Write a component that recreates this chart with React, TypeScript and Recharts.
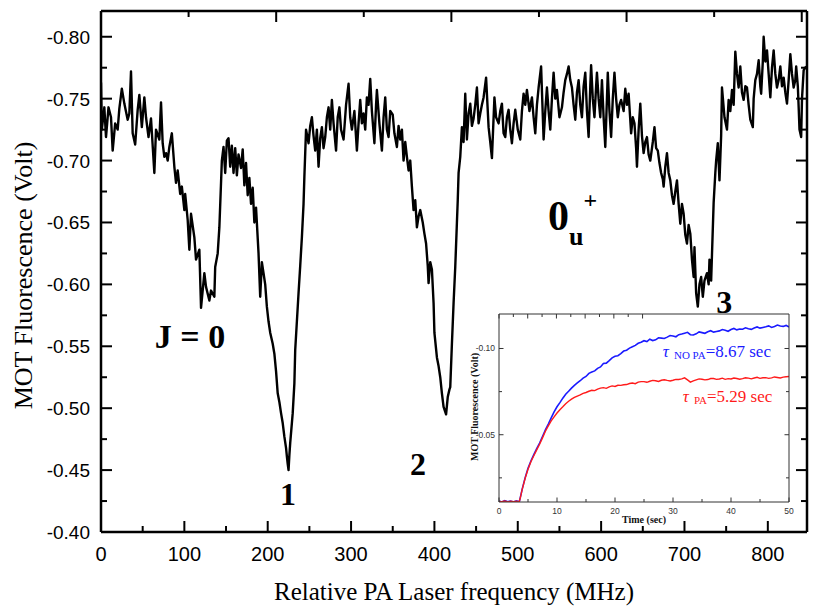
import React from "react";
import { LineChart, Line, XAxis, YAxis, ReferenceDot } from "recharts";

// main trace: relative PA laser frequency (MHz) vs MOT fluorescence (V)
const FREQ_MHZ = [
  0, 1, 4, 6, 9, 12, 14, 17, 20, 22,
  25, 28, 32, 34, 36, 38, 41, 44, 46, 49,
  52, 54, 57, 60, 64, 66, 70, 72, 74, 76,
  78, 80, 82, 85, 88, 90, 92, 95, 97, 100,
  101, 104, 106, 108, 112, 114, 118, 120, 124, 126,
  130, 132, 136, 137, 140, 142, 145, 147, 149, 151,
  153, 155, 157, 159, 161, 163, 165, 168, 170, 172,
  174, 176, 178, 180, 182, 184, 186, 189, 191, 193,
  195, 197, 199, 201, 203, 206, 208, 210, 212, 214,
  216, 218, 220, 222, 223, 224, 225, 226, 227, 229,
  230, 232, 233, 235, 237, 239, 241, 243, 244, 246,
  249, 251, 253, 255, 257, 259, 261, 263, 265, 267,
  269, 271, 273, 275, 277, 279, 282, 284, 286, 288,
  291, 294, 297, 299, 301, 304, 307, 309, 311, 313,
  315, 317, 319, 321, 323, 325, 328, 330, 331, 334,
  337, 339, 341, 343, 345, 347, 350, 352, 355, 357,
  359, 361, 363, 365, 367, 369, 371, 373, 375, 377,
  379, 381, 383, 386, 388, 390, 392, 393, 395, 397,
  399, 400, 403, 405, 407, 409, 411, 412, 414, 416,
  418, 419, 421, 423, 425, 427, 428, 429, 431, 433,
  435, 437, 439, 441, 443, 445, 447, 449, 451, 453,
  455, 457, 459, 462, 465, 467, 469, 472, 474, 477,
  479, 481, 483, 485, 487, 489, 491, 493, 495, 497,
  500, 503, 505, 507, 509, 511, 514, 517, 519, 521,
  523, 525, 528, 531, 533, 535, 537, 539, 541, 543,
  545, 547, 550, 553, 555, 557, 559, 561, 563, 565,
  567, 569, 571, 573, 575, 577, 579, 581, 583, 585,
  587, 588, 590, 592, 594, 595, 597, 599, 601, 603,
  605, 607, 608, 610, 612, 614, 616, 618, 620, 622,
  624, 627, 629, 631, 633, 636, 638, 640, 642, 643,
  645, 647, 649, 651, 653, 655, 657, 659, 662, 664,
  666, 668, 670, 672, 674, 675, 677, 679, 681, 683,
  685, 687, 689, 691, 693, 695, 697, 699, 701, 703,
  705, 707, 709, 711, 712, 714, 716, 718, 720, 722,
  724, 727, 729, 730, 732, 735, 737, 738, 740, 742,
  744, 745, 748, 751, 753, 755, 757, 759, 761, 763,
  765, 767, 769, 771, 773, 775, 777, 779, 782, 783,
  785, 787, 789, 791, 792, 794, 795, 797, 799, 801,
  803, 805, 807, 809, 811, 813, 815, 817, 819, 821,
  823, 825, 827, 829, 831, 833, 834, 836, 837, 838,
  840, 841, 843, 846,
];

const FLUOR_V = [
  -0.763, -0.725, -0.743, -0.719, -0.743, -0.735, -0.708, -0.730, -0.725, -0.742,
  -0.758, -0.746, -0.733, -0.738, -0.772, -0.722, -0.713, -0.741, -0.753, -0.727,
  -0.751, -0.735, -0.719, -0.734, -0.690, -0.725, -0.717, -0.747, -0.714, -0.703,
  -0.706, -0.700, -0.711, -0.722, -0.695, -0.682, -0.692, -0.673, -0.679, -0.660,
  -0.673, -0.652, -0.628, -0.657, -0.638, -0.620, -0.628, -0.581, -0.609, -0.598,
  -0.587, -0.595, -0.590, -0.614, -0.625, -0.646, -0.700, -0.711, -0.690, -0.716,
  -0.718, -0.695, -0.712, -0.690, -0.710, -0.688, -0.705, -0.694, -0.709, -0.680,
  -0.698, -0.672, -0.686, -0.665, -0.678, -0.650, -0.662, -0.625, -0.590, -0.618,
  -0.609, -0.600, -0.582, -0.570, -0.561, -0.552, -0.544, -0.530, -0.512, -0.505,
  -0.496, -0.488, -0.477, -0.468, -0.461, -0.455, -0.450, -0.462, -0.472, -0.488,
  -0.496, -0.520, -0.547, -0.570, -0.593, -0.615, -0.638, -0.665, -0.687, -0.725,
  -0.714, -0.728, -0.735, -0.720, -0.708, -0.725, -0.695, -0.718, -0.727, -0.710,
  -0.719, -0.735, -0.743, -0.725, -0.749, -0.730, -0.708, -0.735, -0.743, -0.725,
  -0.717, -0.745, -0.762, -0.735, -0.725, -0.740, -0.708, -0.730, -0.749, -0.730,
  -0.738, -0.725, -0.751, -0.745, -0.766, -0.740, -0.714, -0.745, -0.757, -0.730,
  -0.708, -0.735, -0.751, -0.725, -0.719, -0.740, -0.737, -0.722, -0.711, -0.728,
  -0.717, -0.725, -0.700, -0.715, -0.703, -0.692, -0.700, -0.679, -0.660, -0.668,
  -0.646, -0.655, -0.660, -0.650, -0.641, -0.633, -0.615, -0.601, -0.618, -0.612,
  -0.585, -0.561, -0.541, -0.534, -0.525, -0.512, -0.501, -0.499, -0.495, -0.509,
  -0.515, -0.517, -0.552, -0.585, -0.614, -0.650, -0.668, -0.690, -0.703, -0.727,
  -0.715, -0.754, -0.717, -0.738, -0.746, -0.728, -0.734, -0.745, -0.759, -0.730,
  -0.738, -0.745, -0.751, -0.767, -0.727, -0.715, -0.702, -0.751, -0.735, -0.730,
  -0.740, -0.746, -0.722, -0.719, -0.735, -0.741, -0.725, -0.714, -0.730, -0.741,
  -0.725, -0.717, -0.740, -0.754, -0.745, -0.757, -0.740, -0.751, -0.735, -0.722,
  -0.745, -0.759, -0.776, -0.717, -0.740, -0.759, -0.740, -0.725, -0.750, -0.771,
  -0.750, -0.757, -0.735, -0.743, -0.755, -0.765, -0.770, -0.776, -0.765, -0.759,
  -0.745, -0.733, -0.755, -0.765, -0.745, -0.735, -0.760, -0.771, -0.740, -0.719,
  -0.760, -0.777, -0.750, -0.735, -0.760, -0.771, -0.750, -0.735, -0.765, -0.735,
  -0.711, -0.750, -0.771, -0.740, -0.719, -0.750, -0.771, -0.750, -0.735, -0.745,
  -0.749, -0.740, -0.758, -0.745, -0.754, -0.722, -0.735, -0.730, -0.710, -0.695,
  -0.725, -0.746, -0.720, -0.706, -0.715, -0.719, -0.705, -0.700, -0.715, -0.727,
  -0.710, -0.708, -0.698, -0.690, -0.685, -0.679, -0.695, -0.706, -0.690, -0.684,
  -0.672, -0.665, -0.675, -0.684, -0.665, -0.649, -0.665, -0.657, -0.640, -0.633,
  -0.648, -0.641, -0.620, -0.606, -0.630, -0.593, -0.582, -0.600, -0.606, -0.590,
  -0.603, -0.609, -0.600, -0.620, -0.603, -0.666, -0.690, -0.700, -0.714, -0.684,
  -0.720, -0.759, -0.735, -0.725, -0.749, -0.740, -0.757, -0.745, -0.788, -0.770,
  -0.759, -0.776, -0.755, -0.749, -0.760, -0.759, -0.745, -0.733, -0.727, -0.750,
  -0.765, -0.770, -0.781, -0.760, -0.754, -0.780, -0.800, -0.780, -0.789, -0.770,
  -0.751, -0.775, -0.789, -0.770, -0.759, -0.765, -0.776, -0.760, -0.767, -0.755,
  -0.746, -0.765, -0.786, -0.770, -0.759, -0.765, -0.776, -0.760, -0.743, -0.725,
  -0.719, -0.750, -0.773, -0.776,
];

// inset: loading curves of the MOT, with and without PA light
const TIME_S = [
  0, 0.5, 1, 1.5, 2, 2.5, 3, 3.5, 3.7, 4,
  4.5, 5, 5.5, 6, 6.5, 7, 7.5, 8, 8.5, 9,
  9.5, 10, 10.5, 11, 11.5, 12, 12.5, 13, 13.5, 14,
  14.5, 15, 15.5, 16, 16.5, 17, 17.5, 18, 18.5, 19,
  19.5, 20, 20.5, 21, 21.5, 22, 22.5, 23, 23.5, 24,
  24.5, 25, 25.5, 26, 26.5, 27, 27.5, 28, 28.5, 29,
  29.5, 30, 30.5, 31, 31.5, 32, 32.5, 33, 33.5, 34,
  34.5, 35, 35.5, 36, 36.5, 37, 37.5, 38, 38.5, 39,
  39.5, 40, 40.5, 41, 41.5, 42, 42.5, 43, 43.5, 44,
  44.5, 45, 45.5, 46, 46.5, 47, 47.5, 48, 48.5, 49,
  49.5, 50,
];

const NO_PA_V = [
  -0.0115, -0.0110, -0.0118, -0.0112, -0.0116, -0.0110, -0.0117, -0.0112, -0.0140, -0.0185,
  -0.0250, -0.0305, -0.0348, -0.0385, -0.0420, -0.0452, -0.0490, -0.0528, -0.0562, -0.0598,
  -0.0632, -0.0662, -0.0686, -0.0712, -0.0735, -0.0752, -0.0770, -0.0786, -0.0800, -0.0813,
  -0.0828, -0.0838, -0.0856, -0.0864, -0.0870, -0.0885, -0.0893, -0.0913, -0.0915, -0.0930,
  -0.0946, -0.0955, -0.0958, -0.0970, -0.0985, -0.0990, -0.1002, -0.1010, -0.1018, -0.1030,
  -0.1036, -0.1045, -0.1040, -0.1054, -0.1046, -0.1050, -0.1062, -0.1060, -0.1058, -0.1066,
  -0.1075, -0.1072, -0.1068, -0.1080, -0.1084, -0.1089, -0.1094, -0.1080, -0.1078, -0.1085,
  -0.1096, -0.1092, -0.1088, -0.1097, -0.1103, -0.1095, -0.1099, -0.1102, -0.1110, -0.1106,
  -0.1100, -0.1110, -0.1116, -0.1108, -0.1113, -0.1112, -0.1120, -0.1115, -0.1111, -0.1119,
  -0.1125, -0.1118, -0.1122, -0.1126, -0.1131, -0.1122, -0.1128, -0.1136, -0.1130, -0.1128,
  -0.1134, -0.1125,
];

const PA_V = [
  -0.0113, -0.0112, -0.0116, -0.0110, -0.0114, -0.0112, -0.0115, -0.0112, -0.0138, -0.0183,
  -0.0246, -0.0300, -0.0343, -0.0378, -0.0412, -0.0445, -0.0482, -0.0520, -0.0551, -0.0580,
  -0.0604, -0.0626, -0.0645, -0.0662, -0.0680, -0.0694, -0.0706, -0.0716, -0.0724, -0.0731,
  -0.0740, -0.0745, -0.0752, -0.0758, -0.0756, -0.0765, -0.0770, -0.0773, -0.0769, -0.0778,
  -0.0783, -0.0780, -0.0787, -0.0786, -0.0790, -0.0791, -0.0797, -0.0800, -0.0796, -0.0805,
  -0.0808, -0.0808, -0.0804, -0.0810, -0.0815, -0.0813, -0.0809, -0.0816, -0.0819, -0.0815,
  -0.0812, -0.0816, -0.0821, -0.0820, -0.0824, -0.0830, -0.0818, -0.0805, -0.0812, -0.0818,
  -0.0824, -0.0822, -0.0818, -0.0820, -0.0826, -0.0826, -0.0821, -0.0823, -0.0828, -0.0821,
  -0.0825, -0.0823, -0.0829, -0.0826, -0.0822, -0.0825, -0.0830, -0.0828, -0.0824, -0.0829,
  -0.0833, -0.0827, -0.0830, -0.0831, -0.0827, -0.0830, -0.0835, -0.0832, -0.0829, -0.0834,
  -0.0836, -0.0838,
];

const X_TICKS = [0, 50, 100, 150, 200, 250, 300, 350, 400, 450, 500, 550, 600, 650, 700, 750, 800];
const Y_TICKS = [
  -0.8, -0.775, -0.75, -0.725, -0.7, -0.675, -0.65, -0.625, -0.6,
  -0.575, -0.55, -0.525, -0.5, -0.475, -0.45, -0.425, -0.4,
];
const INSET_X_TICKS = [0, 5, 10, 15, 20, 25, 30, 35, 40, 45, 50];
const INSET_Y_TICKS = [-0.1, -0.075, -0.05, -0.025];

const MAIN_ROWS = FREQ_MHZ.map((f, i) => ({ f, v: FLUOR_V[i] }));
const INSET_ROWS = TIME_S.map((t, i) => ({ t, noPa: NO_PA_V[i], pa: PA_V[i] }));

const SERIF = "'Liberation Serif', 'Times New Roman', Times, serif";
const SANS = "'Liberation Sans', Arial, Helvetica, sans-serif";

const majorMHz = (v: number) => Math.round(v) % 100 === 0;
const majorVolt = (v: number) => Math.round(Math.abs(v) * 1000) % 50 === 0;
const majorSec = (v: number) => Math.round(v) % 10 === 0;

// ---- main chart ticks (all pointing into the frame) ----
function MainBottomTick(props: any) {
  const { x, y, payload } = props;
  const major = majorMHz(payload.value);
  return (
    <g>
      <line x1={x} x2={x} y1={y} y2={y - (major ? 11 : 6)} stroke="#000" strokeWidth={2} />
      {major && (
        <text x={x} y={y + 29} textAnchor="middle" fontFamily={SANS} fontSize={20} fill="#000">
          {payload.value}
        </text>
      )}
    </g>
  );
}

function MainTopTick(props: any) {
  const { x, y, payload } = props;
  const major = majorMHz(payload.value);
  return <line x1={x} x2={x} y1={y} y2={y + (major ? 11 : 6)} stroke="#000" strokeWidth={2} />;
}

function MainLeftTick(props: any) {
  const { x, y, payload } = props;
  const major = majorVolt(payload.value);
  return (
    <g>
      <line x1={x} x2={x + (major ? 11 : 6)} y1={y} y2={y} stroke="#000" strokeWidth={2} />
      {major && (
        <text x={x - 11} y={y + 7} textAnchor="end" fontFamily={SANS} fontSize={19} fill="#000">
          {payload.value.toFixed(2)}
        </text>
      )}
    </g>
  );
}

function MainRightTick(props: any) {
  const { x, y, payload } = props;
  const major = majorVolt(payload.value);
  return <line x1={x} x2={x - (major ? 11 : 6)} y1={y} y2={y} stroke="#000" strokeWidth={2} />;
}

// ---- inset ticks ----
function InsetBottomTick(props: any) {
  const { x, y, payload } = props;
  const major = majorSec(payload.value);
  return (
    <g>
      <line x1={x} x2={x} y1={y} y2={y - (major ? 4.5 : 3)} stroke="#333" strokeWidth={1} />
      {major && (
        <text x={x} y={y + 12} textAnchor="middle" fontFamily={SANS} fontSize={8.5} fill="#333">
          {payload.value}
        </text>
      )}
    </g>
  );
}

function InsetTopTick(props: any) {
  const { x, y, payload } = props;
  const major = majorSec(payload.value);
  return <line x1={x} x2={x} y1={y} y2={y + (major ? 4.5 : 3)} stroke="#333" strokeWidth={1} />;
}

function InsetLeftTick(props: any) {
  const { x, y, payload } = props;
  const major = majorVolt(payload.value);
  return (
    <g>
      <line x1={x} x2={x + (major ? 4.5 : 3)} y1={y} y2={y} stroke="#333" strokeWidth={1} />
      {major && (
        <text x={x - 4} y={y + 3} textAnchor="end" fontFamily={SANS} fontSize={8.5} fill="#333">
          {payload.value.toFixed(2)}
        </text>
      )}
    </g>
  );
}

function InsetRightTick(props: any) {
  const { x, y, payload } = props;
  const major = majorVolt(payload.value);
  return <line x1={x} x2={x - (major ? 4.5 : 3)} y1={y} y2={y} stroke="#333" strokeWidth={1} />;
}

// ---- titles and notes ----
const mainXTitle = (p: any) => {
  const vb = p.viewBox;
  return (
    <text x={vb.x + vb.width / 2} y={vb.y + 68} textAnchor="middle" fontFamily={SERIF} fontSize={25} fill="#000">
      Relative PA Laser frequency (MHz)
    </text>
  );
};

const mainYTitle = (p: any) => {
  const vb = p.viewBox;
  const cx = vb.x + 32;
  const cy = vb.y + vb.height / 2 + 4;
  return (
    <text x={cx} y={cy} transform={`rotate(-90 ${cx} ${cy})`} textAnchor="middle" fontFamily={SERIF} fontSize={26} fill="#000">
      MOT Fluorescence (Volt)
    </text>
  );
};

const insetXTitle = (p: any) => {
  const vb = p.viewBox;
  return (
    <text x={vb.x + vb.width / 2} y={vb.y + 21} textAnchor="middle" fontFamily={SERIF} fontWeight="bold" fontSize={10} fill="#111">
      Time (sec)
    </text>
  );
};

const insetYTitle = (p: any) => {
  const vb = p.viewBox;
  const cx = vb.x + 8;
  const cy = vb.y + vb.height / 2 - 1;
  return (
    <text x={cx} y={cy} transform={`rotate(-90 ${cx} ${cy})`} textAnchor="middle" fontFamily={SERIF} fontWeight="bold" fontSize={10} fill="#111">
      MOT Fluorescence (Volt)
    </text>
  );
};

function note(text: string, size: number) {
  return (p: any) => {
    const vb = p.viewBox;
    return (
      <text x={vb.x + vb.width / 2} y={vb.y + vb.height / 2} textAnchor="middle" fontFamily={SERIF} fontWeight="bold" fontSize={size} fill="#000">
        {text}
      </text>
    );
  };
}

const stateNote = (p: any) => {
  const vb = p.viewBox;
  return (
    <text x={vb.x} y={vb.y} fontFamily={SERIF} fontWeight="bold" fill="#000">
      <tspan fontSize={42}>0</tspan>
      <tspan fontSize={26} dy={15}>u</tspan>
      <tspan fontSize={24} dy={-37}>+</tspan>
    </text>
  );
};

function tauNote(sub: string, rest: string, color: string) {
  return (p: any) => {
    const vb = p.viewBox;
    return (
      <text x={vb.x} y={vb.y} fontFamily={SERIF} fontSize={17} fill={color}>
        <tspan fontStyle="italic">τ</tspan>
        <tspan fontSize={11} dx={5} dy={2}>{sub}</tspan>
        <tspan dy={-2}>{rest}</tspan>
      </text>
    );
  };
}

export default function App() {
  return (
    <div style={{ position: "absolute", left: 0, top: 0, width: 830, height: 609, background: "#fff" }}>
      <LineChart width={830} height={609} data={MAIN_ROWS} margin={{ top: 10, right: 22, bottom: 0, left: 0 }}>
        <XAxis
          xAxisId="b"
          dataKey="f"
          type="number"
          domain={[0, 847]}
          allowDataOverflow
          ticks={X_TICKS}
          interval={0}
          height={77}
          tickSize={0}
          tickMargin={0}
          tickLine={false}
          tick={MainBottomTick}
          axisLine={{ stroke: "#000", strokeWidth: 2.5 }}
          label={{ content: mainXTitle }}
        />
        <XAxis
          xAxisId="t"
          orientation="top"
          type="number"
          domain={[0, 847]}
          allowDataOverflow
          ticks={X_TICKS}
          interval={0}
          height={1}
          tickSize={0}
          tickMargin={0}
          tickLine={false}
          tick={MainTopTick}
          axisLine={{ stroke: "#000", strokeWidth: 2.5 }}
        />
        <YAxis
          yAxisId="l"
          type="number"
          domain={[-0.8208, -0.4]}
          reversed
          allowDataOverflow
          ticks={Y_TICKS}
          interval={0}
          width={101}
          tickSize={0}
          tickMargin={0}
          tickLine={false}
          tick={MainLeftTick}
          axisLine={{ stroke: "#000", strokeWidth: 2.5 }}
          label={{ content: mainYTitle }}
        />
        <YAxis
          yAxisId="r"
          orientation="right"
          type="number"
          domain={[-0.8208, -0.4]}
          reversed
          allowDataOverflow
          ticks={Y_TICKS}
          interval={0}
          width={1}
          tickSize={0}
          tickMargin={0}
          tickLine={false}
          tick={MainRightTick}
          axisLine={{ stroke: "#000", strokeWidth: 2.5 }}
        />
        <Line
          xAxisId="b"
          yAxisId="l"
          type="linear"
          dataKey="v"
          stroke="#000"
          strokeWidth={2.4}
          strokeLinejoin="round"
          dot={false}
          isAnimationActive={false}
        />
        <ReferenceDot xAxisId="b" yAxisId="l" x={106.8} y={-0.5485} r={0} label={{ content: note("J = 0", 34) }} />
        <ReferenceDot xAxisId="b" yAxisId="l" x={224.4} y={-0.4217} r={0} label={{ content: note("1", 32) }} />
        <ReferenceDot xAxisId="b" yAxisId="l" x={380.4} y={-0.446} r={0} label={{ content: note("2", 32) }} />
        <ReferenceDot xAxisId="b" yAxisId="l" x={747.6} y={-0.5768} r={0} label={{ content: note("3", 32) }} />
        <ReferenceDot xAxisId="b" yAxisId="l" x={536.4} y={-0.6438} r={0} label={{ content: stateNote }} />
      </LineChart>

      <div style={{ position: "absolute", left: 470, top: 305 }}>
        <LineChart width={330} height={225} data={INSET_ROWS} margin={{ top: 8, right: 10, bottom: 0, left: 0 }}>
          <XAxis
            xAxisId="b"
            dataKey="t"
            type="number"
            domain={[0, 50]}
            allowDataOverflow
            ticks={INSET_X_TICKS}
            interval={0}
            height={28}
            tickSize={0}
            tickMargin={0}
            tickLine={false}
            tick={InsetBottomTick}
            axisLine={{ stroke: "#333", strokeWidth: 1 }}
            label={{ content: insetXTitle }}
          />
          <XAxis
            xAxisId="t"
            orientation="top"
            type="number"
            domain={[0, 50]}
            allowDataOverflow
            ticks={INSET_X_TICKS}
            interval={0}
            height={1}
            tickSize={0}
            tickMargin={0}
            tickLine={false}
            tick={InsetTopTick}
            axisLine={{ stroke: "#333", strokeWidth: 1 }}
          />
          <YAxis
            yAxisId="l"
            type="number"
            domain={[-0.12, -0.011]}
            reversed
            allowDataOverflow
            ticks={INSET_Y_TICKS}
            interval={0}
            width={29}
            tickSize={0}
            tickMargin={0}
            tickLine={false}
            tick={InsetLeftTick}
            axisLine={{ stroke: "#333", strokeWidth: 1 }}
            label={{ content: insetYTitle }}
          />
          <YAxis
            yAxisId="r"
            orientation="right"
            type="number"
            domain={[-0.12, -0.011]}
            reversed
            allowDataOverflow
            ticks={INSET_Y_TICKS}
            interval={0}
            width={1}
            tickSize={0}
            tickMargin={0}
            tickLine={false}
            tick={InsetRightTick}
            axisLine={{ stroke: "#333", strokeWidth: 1 }}
          />
          <Line
            xAxisId="b"
            yAxisId="l"
            type="linear"
            dataKey="noPa"
            stroke="#1a1aff"
            strokeWidth={1.6}
            dot={false}
            isAnimationActive={false}
          />
          <Line
            xAxisId="b"
            yAxisId="l"
            type="linear"
            dataKey="pa"
            stroke="#ff1a1a"
            strokeWidth={1.4}
            dot={false}
            isAnimationActive={false}
          />
          <ReferenceDot xAxisId="b" yAxisId="l" x={28.25} y={-0.0949} r={0} label={{ content: tauNote("NO PA", "=8.67 sec", "#1a1aff") }} />
          <ReferenceDot xAxisId="b" yAxisId="l" x={31.69} y={-0.0688} r={0} label={{ content: tauNote("PA", "=5.29 sec", "#ff1a1a") }} />
        </LineChart>
      </div>
    </div>
  );
}
